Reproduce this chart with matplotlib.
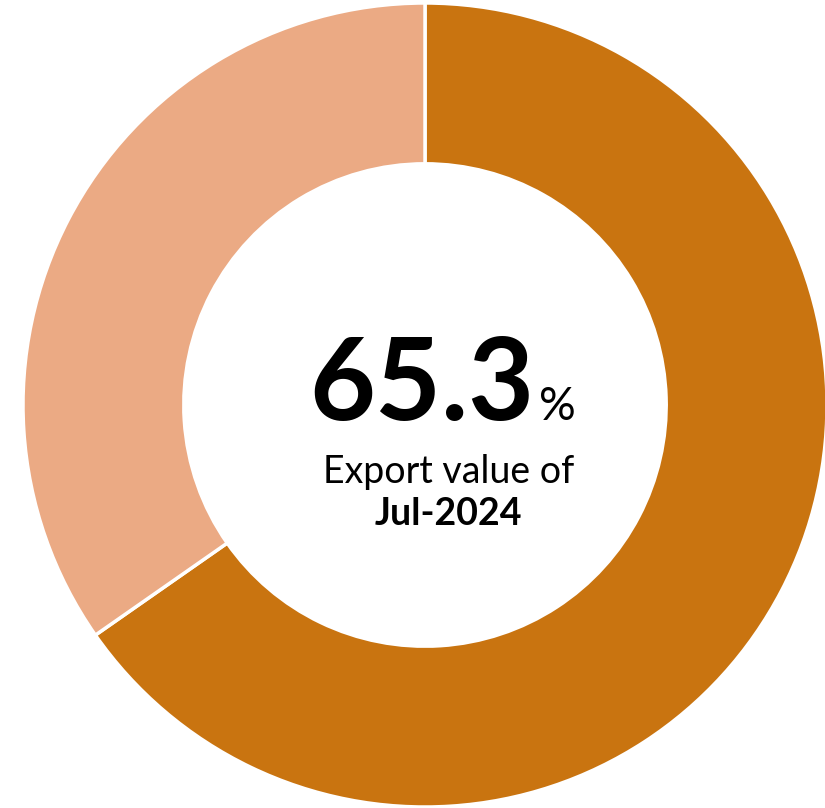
import matplotlib
matplotlib.use("Agg")
import matplotlib.pyplot as plt

labels = ["Jul-2024", "Other"]
values = [65.3, 34.7]
colors = ["#C97410", "#EBAA84"]
center_value = "65.3"
caption = "Export value of"
period = "Jul-2024"

W, H = 825, 808
fig = plt.figure(figsize=(W / 100, H / 100), dpi=100)
ax = fig.add_axes([0, 0, 1, 1])
ax.set_xlim(0, W)
ax.set_ylim(0, H)
cx, cy, r = 425, H - 405, 402
ax.pie(values, colors=colors, startangle=90, counterclock=False,
       center=(cx, cy), radius=r,
       wedgeprops=dict(width=r * 0.4, edgecolor="white", linewidth=2.5))
ax.set_xlim(0, W)
ax.set_ylim(0, H)
ax.set_aspect("auto")
ax.axis("off")

font = "Lato"
ax.text(534, H - 420, center_value, ha="right", va="baseline",
        fontsize=82, fontweight="bold", family=font, color="black")
ax.text(539, H - 420, "%", ha="left", va="baseline",
        fontsize=33, family=font, color="black")
ax.text(449, H - 483, caption, ha="center", va="baseline",
        fontsize=27, family=font, color="black")
ax.text(448, H - 525, period, ha="center", va="baseline",
        fontsize=27, fontweight="bold", family=font, color="black")

fig.savefig("out.png", dpi=100)
